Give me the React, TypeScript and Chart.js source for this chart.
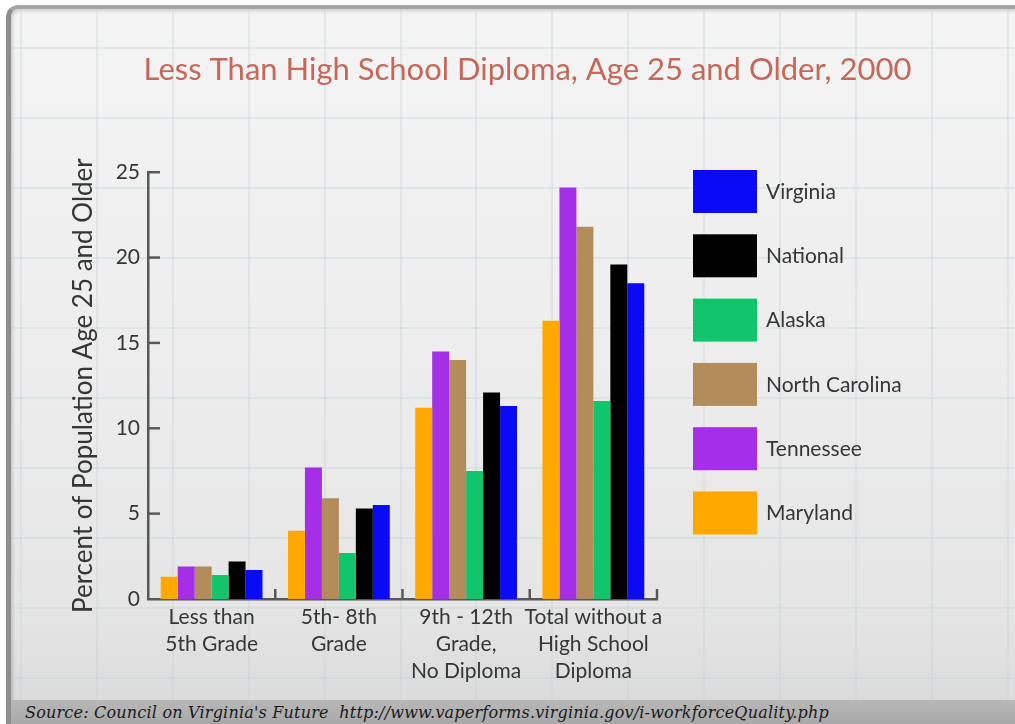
import React, { useEffect, useRef } from "react";
import { Chart, registerables } from "chart.js";

Chart.register(...registerables);

const chartTitle = "Less Than High School Diploma, Age 25 and Older, 2000";
const yAxisTitle = "Percent of Population Age 25 and Older";
const sourceText = "Source: Council on Virginia's Future  http://www.vaperforms.virginia.gov/i-workforceQuality.php";

const categories = [
  ["Less than", "5th Grade"],
  ["5th- 8th", "Grade"],
  ["9th - 12th", "Grade,", "No Diploma"],
  ["Total without a", "High School", "Diploma"],
];
const seriesNames = ["Maryland", "Tennessee", "North Carolina", "Alaska", "National", "Virginia"];
const seriesColors = ["#ffa800", "#a52fe6", "#b48b5a", "#12c46c", "#000000", "#0a0af5"];
const maryland = [1.3, 4.0, 11.2, 16.3];
const tennessee = [1.9, 7.7, 14.5, 24.1];
const northCarolina = [1.9, 5.9, 14.0, 21.8];
const alaska = [1.4, 2.7, 7.5, 11.6];
const national = [2.2, 5.3, 12.1, 19.6];
const virginia = [1.7, 5.5, 11.3, 18.5];
const yMin = 0;
const yMax = 25;
const yStep = 5;

const FONT = "Lato, 'Open Sans', sans-serif";
const TEXT = "#363636";
const AXIS = "#585858";

const bgGridPlugin = {
  id: "bgGrid",
  beforeDraw(chart: any) {
    const { ctx, width, height } = chart;
    ctx.save();
    ctx.strokeStyle = "rgba(196,208,216,0.35)";
    ctx.lineWidth = 2;
    for (let x = 21; x < width; x += 75.9) {
      ctx.beginPath();
      ctx.moveTo(Math.round(x), 10);
      ctx.lineTo(Math.round(x), height);
      ctx.stroke();
    }
    for (let y = 48; y < height; y += 70) {
      ctx.beginPath();
      ctx.moveTo(12, Math.round(y));
      ctx.lineTo(width, Math.round(y));
      ctx.stroke();
    }
    ctx.restore();
  },
};

const axisTicksPlugin = {
  id: "axisTicks",
  afterDraw(chart: any) {
    const { ctx, chartArea } = chart;
    const ys = chart.scales.y;
    const xs = chart.scales.x;
    ctx.save();
    ctx.strokeStyle = AXIS;
    ctx.lineWidth = 2.5;
    ys.ticks.forEach((t: any) => {
      const py = ys.getPixelForValue(t.value);
      if (t.value === 0) return;
      ctx.beginPath();
      ctx.moveTo(chartArea.left, py);
      ctx.lineTo(chartArea.left + 12, py);
      ctx.stroke();
    });
    const n = categories.length;
    for (let i = 1; i <= n; i++) {
      const px = i < n
        ? (xs.getPixelForValue(i - 1) + xs.getPixelForValue(i)) / 2
        : chartArea.right;
      ctx.beginPath();
      ctx.moveTo(px, chartArea.bottom);
      ctx.lineTo(px, chartArea.bottom - 10);
      ctx.stroke();
    }
    ctx.restore();
  },
};

const legendPlugin = {
  id: "customLegend",
  afterDraw(chart: any) {
    const { ctx } = chart;
    const ds = chart.data.datasets.slice().reverse();
    ctx.save();
    ctx.font = `21px ${FONT}`;
    ctx.textBaseline = "middle";
    ds.forEach((d: any, i: number) => {
      const top = 170 + i * 64.3;
      ctx.fillStyle = d.backgroundColor;
      ctx.fillRect(693, top, 64, 43);
      ctx.fillStyle = TEXT;
      ctx.fillText(d.label, 766, top + 22);
    });
    ctx.restore();
  },
};

export default function App() {
  const ref = useRef<HTMLCanvasElement | null>(null);

  useEffect(() => {
    if (!ref.current) return;
    const values = [maryland, tennessee, northCarolina, alaska, national, virginia];
    const chart = new Chart(ref.current, {
      type: "bar",
      data: {
        labels: categories,
        datasets: seriesNames.map((name, i) => ({
          label: name,
          data: values[i],
          backgroundColor: seriesColors[i],
          borderWidth: 0,
          categoryPercentage: 0.8,
          barPercentage: 1.0,
        })),
      },
      options: {
        animation: false,
        responsive: false,
        devicePixelRatio: 1,
        layout: { padding: { left: 40, right: 0, top: 0, bottom: 0 } },
        plugins: {
          legend: { display: false },
          tooltip: { enabled: false },
          title: {
            display: true,
            text: chartTitle,
            color: "#c4685a",
            font: { family: FONT, size: 31, weight: "normal", lineHeight: 1.2 },
            padding: { top: 51, bottom: 84 },
          },
        },
        scales: {
          x: {
            grid: { display: false, drawTicks: false },
            border: { display: true, color: AXIS, width: 2.5 },
            ticks: {
              color: TEXT,
              font: { family: FONT, size: 21, lineHeight: 1.29 },
              padding: 5,
              maxRotation: 0,
              autoSkip: false,
            },
            afterFit: (s: any) => { s.height = 101; },
          },
          y: {
            min: yMin,
            max: yMax,
            grid: { display: false, drawTicks: false },
            border: { display: true, color: AXIS, width: 2.5 },
            ticks: {
              stepSize: yStep,
              color: TEXT,
              font: { family: FONT, size: 21 },
              padding: 8,
            },
            title: {
              display: true,
              text: yAxisTitle,
              color: TEXT,
              font: { family: FONT, size: 26 },
              padding: { top: 28, bottom: 0 },
            },
            afterFit: (s: any) => { s.width = 108; },
          },
          y2: {
            position: "right",
            display: true,
            grid: { display: false, drawTicks: false },
            border: { display: false },
            ticks: { display: false },
            afterFit: (s: any) => { s.width = 358; },
          },
        },
      },
      plugins: [bgGridPlugin, axisTicksPlugin, legendPlugin],
    } as any);
    return () => chart.destroy();
  }, []);

  return (
    <div style={{ position: "absolute", left: 0, top: 0, width: 1015, height: 724, overflow: "hidden", background: "#ffffff" }}>
      <div
        style={{
          position: "absolute",
          left: 6,
          top: 5,
          width: 1030,
          height: 691,
          borderLeft: "5px solid #8e8e8e",
          borderTop: "4px solid #a6a6a6",
          borderTopLeftRadius: 12,
          background: "linear-gradient(180deg, #f4f4f4 0%, #eeeeee 45%, #e6e6e6 85%, #dcdcdc 100%)",
          boxShadow: "inset 2px 2px 3px rgba(0,0,0,0.15)",
        }}
      />
      <div
        style={{
          position: "absolute",
          left: 6,
          top: 700,
          width: 1030,
          height: 24,
          borderLeft: "5px solid #8e8e8e",
          background: "linear-gradient(180deg, #b8b8b8 0%, #a8a8a8 100%)",
        }}
      />
      <div
        style={{
          position: "absolute",
          left: 25,
          top: 701,
          height: 23,
          lineHeight: "23px",
          fontFamily: "'DejaVu Serif', serif",
          fontStyle: "italic",
          fontSize: 16,
          letterSpacing: "0.2px",
          color: "#1a1a1a",
          whiteSpace: "pre",
        }}
      >
        {sourceText}
      </div>
      <canvas
        ref={ref}
        width={1015}
        height={700}
        style={{ position: "absolute", left: 0, top: 0, width: 1015, height: 700 }}
      />
    </div>
  );
}
